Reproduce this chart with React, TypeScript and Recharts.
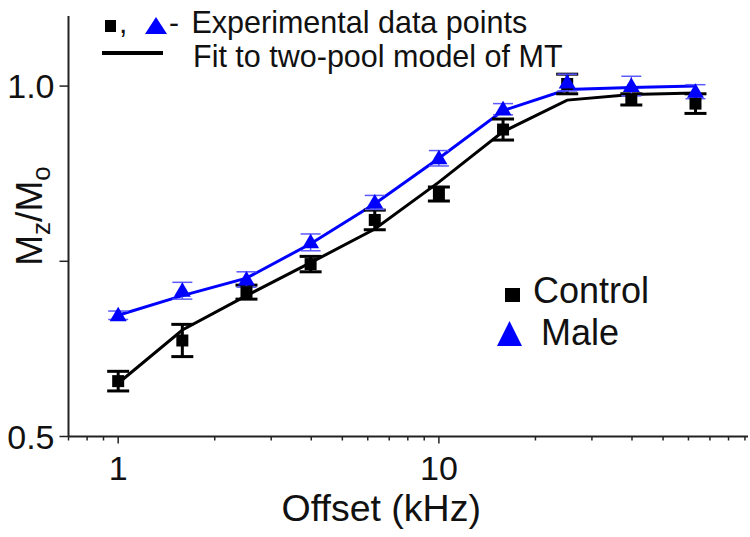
import React from 'react';
import { ComposedChart, Line, Scatter, XAxis, YAxis, ErrorBar } from 'recharts';

// Offset frequencies (kHz)
const offsets = [1, 1.585, 2.512, 3.981, 6.31, 10, 15.85, 25.12, 39.81, 63.1];
// Experimental data points (Mz/Mo)
const controlMean = [0.579, 0.637, 0.706, 0.746, 0.809, 0.846, 0.938, 1.003, 0.981, 0.975];
const controlErr = [0.014, 0.023, 0.010, 0.011, 0.014, 0.010, 0.015, 0.014, 0.008, 0.014];
const maleMean = [0.673, 0.708, 0.724, 0.777, 0.834, 0.897, 0.967, 1.005, 1.000, 0.992];
const maleErr = [0.006, 0.012, 0.011, 0.012, 0.010, 0.011, 0.008, 0.012, 0.014, 0.010];
// Fit to two-pool model of MT
const controlFit = [0.576, 0.652, 0.701, 0.748, 0.796, 0.863, 0.935, 0.980, 0.988, 0.990];
const maleFit = [0.673, 0.701, 0.726, 0.775, 0.832, 0.897, 0.965, 0.995, 0.998, 1.000];

const xTicks = [0.7, 0.8, 0.9, 1, 2, 3, 4, 5, 6, 7, 8, 9, 10, 20, 30, 40, 50, 60, 70, 80, 90];
const xTickLabels: Record<number, string> = { 1: '1', 10: '10' };
const yTicks = [0.5, 0.75, 1.0];
const yTickLabels: Record<number, string> = { 0.5: '0.5', 1: '1.0' };

const FONT = '"Liberation Sans", Arial, Helvetica, sans-serif';

const rows = offsets.map((o, i) => ({
  offset: o,
  controlFit: controlFit[i],
  maleFit: maleFit[i],
  control: controlMean[i],
  controlErr: controlErr[i],
  male: maleMean[i],
  maleErr: maleErr[i],
}));

const XTick = (props: any) => {
  const { x, y, payload } = props;
  const v = payload.value;
  const label = xTickLabels[v];
  const major = !!label;
  return (
    <g>
      <line x1={x} x2={x} y1={y} y2={y + (major ? 7 : 4)} stroke="#222" strokeWidth={1.5} />
      {label && (
        <text x={x} y={y + 43} textAnchor="middle" fontSize={34} fontFamily={FONT} fill="#111">
          {label}
        </text>
      )}
    </g>
  );
};

const YTick = (props: any) => {
  const { x, y, payload } = props;
  const v = payload.value;
  const label = yTickLabels[v];
  return (
    <g>
      <line x1={x - 9} x2={x} y1={y} y2={y} stroke="#222" strokeWidth={1.5} />
      {label && (
        <text x={x - 14} y={y + 12} textAnchor="end" fontSize={34} fontFamily={FONT} fill="#111">
          {label}
        </text>
      )}
    </g>
  );
};

const SquareShape = (props: any) => {
  const { cx, cy } = props;
  if (cx == null || cy == null) return null;
  return <rect x={cx - 6} y={cy - 6} width={12} height={12} fill="#000" />;
};

const TriangleShape = (props: any) => {
  const { cx, cy } = props;
  if (cx == null || cy == null) return null;
  return <polygon points={`${cx - 8.5},${cy + 6} ${cx + 8.5},${cy + 6} ${cx},${cy - 8.5}`} fill="#0000ff" />;
};

const YLabel = () => (
  <text
    x={42}
    y={216}
    transform="rotate(-90, 42, 216)"
    textAnchor="middle"
    fontSize={37}
    fontFamily={FONT}
    fill="#111"
  >
    <tspan>M</tspan>
    <tspan dy={8} fontSize={26}>z</tspan>
    <tspan dy={-8}>/M</tspan>
    <tspan dy={8} fontSize={26}>o</tspan>
  </text>
);

const XLabel = (props: any) => {
  const vb = props.viewBox || { x: 68, y: 436, width: 680, height: 100 };
  return (
    <text
      x={vb.x + vb.width / 2 - 27}
      y={vb.y + 84}
      textAnchor="middle"
      fontSize={37.5}
      fontFamily={FONT}
      fill="#111"
    >
      Offset (kHz)
    </text>
  );
};

export default function App() {
  return (
    <div style={{ position: 'absolute', left: 0, top: 0, width: 750, height: 537, background: '#fff' }}>
      <ComposedChart
        width={750}
        height={537}
        data={rows}
        margin={{ top: 16, right: 2, left: 0, bottom: 0 }}
      >
        <XAxis
          dataKey="offset"
          type="number"
          scale="log"
          domain={[0.7, 92]}
          allowDataOverflow
          ticks={xTicks}
          interval={0}
          tick={<XTick />}
          tickLine={false}
          tickSize={0}
          tickMargin={0}
          height={100.5}
          axisLine={{ stroke: '#222', strokeWidth: 2 }}
          label={<XLabel />}
        />
        <YAxis
          type="number"
          domain={[0.5, 1.1]}
          ticks={yTicks}
          interval={0}
          tick={<YTick />}
          tickLine={false}
          tickSize={0}
          tickMargin={0}
          width={68.5}
          axisLine={{ stroke: '#222', strokeWidth: 2 }}
          label={<YLabel />}
        />
        <Line
          dataKey="controlFit"
          type="linear"
          stroke="#000"
          strokeWidth={3}
          dot={false}
          activeDot={false}
          isAnimationActive={false}
        />
        <Line
          dataKey="maleFit"
          type="linear"
          stroke="#0000ff"
          strokeWidth={3}
          dot={false}
          activeDot={false}
          isAnimationActive={false}
        />
        <Scatter dataKey="control" shape={<SquareShape />} isAnimationActive={false}>
          <ErrorBar dataKey="controlErr" direction="y" width={11} stroke="#000" strokeWidth={3} isAnimationActive={false} />
        </Scatter>
        <Scatter dataKey="male" shape={<TriangleShape />} isAnimationActive={false}>
          <ErrorBar dataKey="maleErr" direction="y" width={10} stroke="#5a5aff" strokeWidth={1.5} isAnimationActive={false} />
        </Scatter>
      </ComposedChart>
      <svg
        width={750}
        height={537}
        style={{ position: 'absolute', left: 0, top: 0, pointerEvents: 'none' }}
      >
        <g fontFamily={FONT} fill="#111">
          <rect x={105} y={20} width={11} height={12} fill="#000" />
          <text x={119} y={33} fontSize={30}>,</text>
          <polygon points="145,34 167,34 156,17" fill="#0000ff" />
          <text x={169} y={33} fontSize={30}>-</text>
          <text x={191.5} y={33} fontSize={30.5}>Experimental data points</text>
          <line x1={102} x2={163} y1={53} y2={53} stroke="#000" strokeWidth={4} />
          <text x={193} y={66.5} fontSize={30.5}>Fit to two-pool model of MT</text>
          <rect x={505} y={288} width={15} height={14} fill="#000" />
          <text x={533} y={303} fontSize={36}>Control</text>
          <polygon points="497,346 522,346 509.5,321" fill="#0000ff" />
          <text x={541} y={345} fontSize={36}>Male</text>
        </g>
      </svg>
    </div>
  );
}
